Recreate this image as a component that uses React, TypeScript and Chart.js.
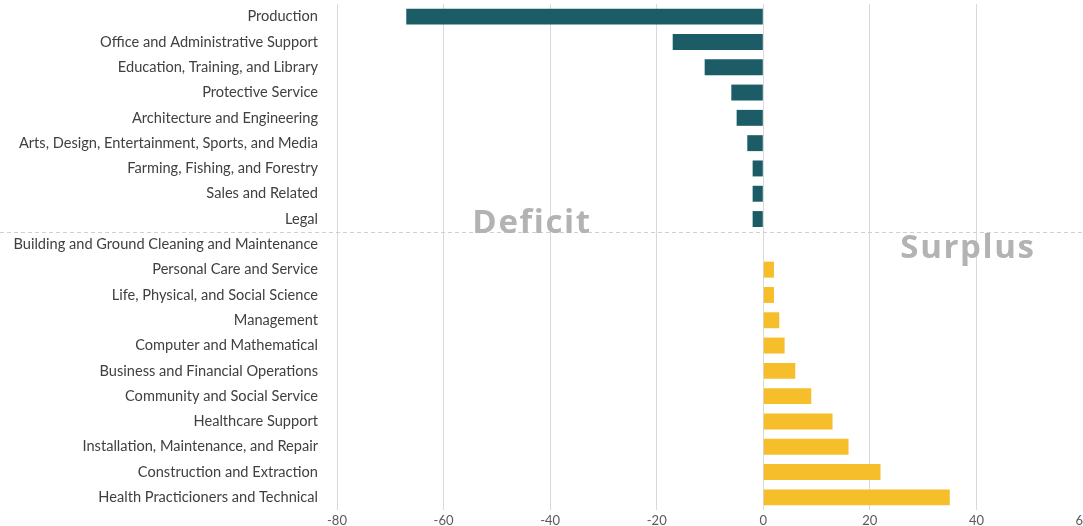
import React, { useEffect, useRef } from "react";
import { Chart, registerables } from "chart.js";

Chart.register(...registerables);

const categories = [
  "Production",
  "Office and Administrative Support",
  "Education, Training, and Library",
  "Protective Service",
  "Architecture and Engineering",
  "Arts, Design, Entertainment, Sports, and Media",
  "Farming, Fishing, and Forestry",
  "Sales and Related",
  "Legal",
  "Building and Ground Cleaning and Maintenance",
  "Personal Care and Service",
  "Life, Physical, and Social Science",
  "Management",
  "Computer and Mathematical",
  "Business and Financial Operations",
  "Community and Social Service",
  "Healthcare Support",
  "Installation, Maintenance, and Repair",
  "Construction and Extraction",
  "Health Practicioners and Technical",
];

const values = [-67, -17, -11, -6, -5, -3, -2, -2, -2, 0, 2, 2, 3, 4, 6, 9, 13, 16, 22, 35];

const xTicks = [-80, -60, -40, -20, 0, 20, 40, 60];

const annotations = [
  { text: "Deficit", x: -43.4, yIndex: 8.5, dy: 1 },
  { text: "Surplus", x: 38.4, yIndex: 8.5, dy: 26 },
];

const NEG_COLOR = "#1b5c66";
const POS_COLOR = "#f5be2a";
const LABEL_FONT = "Lato";

const overlayPlugin = {
  id: "overlay",
  afterDatasetsDraw(chart: any) {
    const { ctx } = chart;
    const xs = chart.scales.x;
    const ys = chart.scales.y;
    const yDiv = ys.getPixelForValue(8.5);
    ctx.save();
    ctx.strokeStyle = "#d0d0d0";
    ctx.lineWidth = 1;
    ctx.setLineDash([4, 3]);
    ctx.beginPath();
    ctx.moveTo(0, Math.round(yDiv) + 0.5);
    ctx.lineTo(chart.width, Math.round(yDiv) + 0.5);
    ctx.stroke();
    ctx.setLineDash([]);
    ctx.fillStyle = "#b3b3b3";
    ctx.font = "bold 33px 'Open Sans'";
    ctx.textAlign = "center";
    ctx.textBaseline = "alphabetic";
    (ctx as any).letterSpacing = "1.6px";
    for (const a of annotations) {
      const px = xs.getPixelForValue(a.x);
      const py = ys.getPixelForValue(a.yIndex) + a.dy;
      ctx.fillText(a.text, px, py);
    }
    ctx.restore();
  },
};

export default function App() {
  const ref = useRef<HTMLCanvasElement>(null);
  useEffect(() => {
    document.body.style.margin = "0";
    const canvas = ref.current;
    if (!canvas) return;
    const chart = new Chart(canvas, {
      type: "bar",
      data: {
        labels: categories,
        datasets: [
          {
            data: values,
            backgroundColor: values.map((v) => (v < 0 ? NEG_COLOR : POS_COLOR)),
            borderWidth: 0,
            barPercentage: 0.63,
            categoryPercentage: 1,
          },
        ],
      },
      options: {
        indexAxis: "y",
        animation: false,
        responsive: false,
        layout: { padding: { top: 4, left: 0, right: -1, bottom: 0 } },
        plugins: {
          legend: { display: false },
          tooltip: { enabled: false },
        },
        scales: {
          x: {
            min: -80,
            max: 60,
            afterBuildTicks(scale: any) {
              scale.ticks = xTicks.map((v) => ({ value: v }));
            },
            afterFit(scale: any) {
              scale.height = 16;
              scale.paddingLeft = 0;
              scale.paddingRight = 0;
            },
            grid: { color: "#d9d9d9", drawTicks: false, lineWidth: 1 },
            border: { display: false },
            ticks: {
              color: "#595959",
              padding: 3,
              font: { family: LABEL_FONT, size: 13 },
              maxRotation: 0,
              autoSkip: false,
            },
          },
          y: {
            afterFit(scale: any) {
              scale.width = 337;
              scale.paddingTop = 0;
              scale.paddingBottom = 0;
            },
            grid: { display: false },
            border: { display: false },
            ticks: {
              color: "#404040",
              padding: 11,
              autoSkip: false,
              font: { family: LABEL_FONT, size: 14.6 },
            },
          },
        },
      },
      plugins: [overlayPlugin],
    });
    return () => chart.destroy();
  }, []);
  return (
    <div style={{ width: 1083, height: 526, overflow: "hidden" }}>
      <canvas ref={ref} width={1083} height={526} style={{ display: "block" }} />
    </div>
  );
}
